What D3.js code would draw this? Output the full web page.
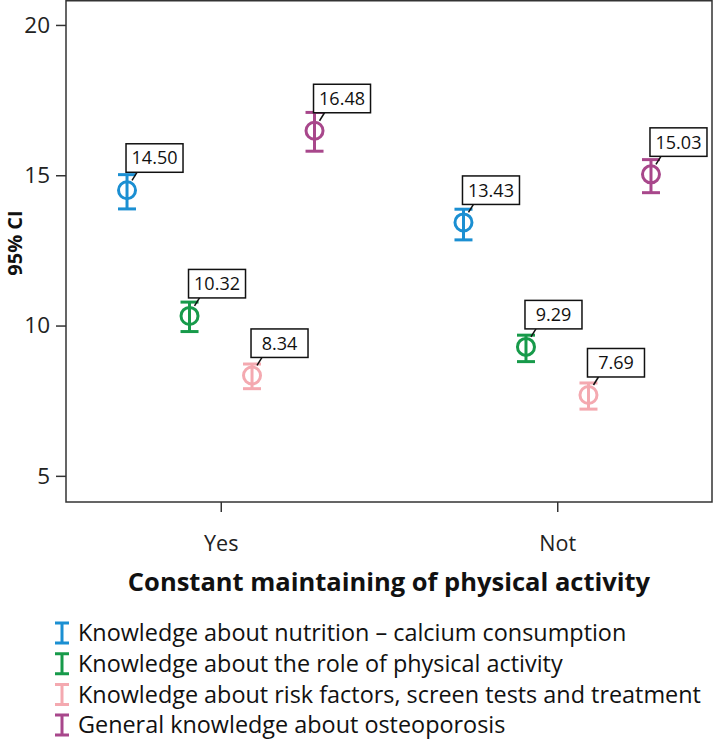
<!DOCTYPE html>
<html><head><meta charset="utf-8">
<script src="https://cdn.jsdelivr.net/npm/d3@7"></script>
<style>
body{margin:0;background:#fff;}
svg{display:block;font-family:"Open Sans",sans-serif;}
</style></head>
<body><svg id="chart" width="714" height="741"></svg>
<script>
const groups = ["Yes", "Not"];
const seriesNames = [
  "Knowledge about nutrition \u2013 calcium consumption",
  "Knowledge about the role of physical activity",
  "Knowledge about risk factors, screen tests and treatment",
  "General knowledge about osteoporosis"
];
const seriesColors = ["#1b8fd2", "#179a4a", "#f4a9b0", "#a8478b"];
const meansYes = [14.50, 10.32, 8.34, 16.48];
const meansNot = [13.43, 9.29, 7.69, 15.03];
const lowerYes = [13.88, 9.80, 7.90, 15.80];
const upperYes = [15.02, 10.78, 8.72, 17.09];
const lowerNot = [12.85, 8.80, 7.22, 14.42];
const upperNot = [13.87, 9.68, 8.09, 15.52];
const yTicks = [5, 10, 15, 20];
const xTitle = "Constant maintaining of physical activity";
const yTitle = "95% CI";

(function () {
const rows = [];
groups.forEach((g, gi) => {
  const m = gi === 0 ? meansYes : meansNot;
  const lo = gi === 0 ? lowerYes : lowerNot;
  const hi = gi === 0 ? upperYes : upperNot;
  seriesNames.forEach((s, si) => rows.push({group: g, si, mean: m[si], lo: lo[si], hi: hi[si]}));
});

const svg = d3.select("#chart");
const pL = 66, pR = 712, pT = 0.75, pB = 502;
const y = d3.scaleLinear().domain([4.13, 20.83]).range([pB, 0]);
const x = d3.scalePoint().domain(groups).range([pL, pR]).padding(0.46);
const off = d3.scalePoint().domain(d3.range(seriesNames.length)).range([-93.75, 93.75]);
const axisColor = "#333";

svg.append("rect").attr("x", pL).attr("y", pT).attr("width", pR - pL).attr("height", pB - pT)
  .attr("fill", "none").attr("stroke", axisColor).attr("stroke-width", 1.5);

const ya = svg.append("g").attr("transform", `translate(${pL},0)`)
  .call(d3.axisLeft(y).tickValues(yTicks).tickSize(10).tickPadding(6));
ya.select(".domain").remove();
ya.selectAll(".tick line").attr("stroke", axisColor).attr("stroke-width", 1.5);
ya.selectAll(".tick text").attr("font-size", 22.5).attr("fill", "#222").attr("font-family", "Open Sans");

const xa = svg.append("g").attr("transform", `translate(0,${pB})`)
  .call(d3.axisBottom(x).tickSize(10).tickPadding(24));
xa.select(".domain").remove();
xa.selectAll(".tick line").attr("stroke", axisColor).attr("stroke-width", 1.5);
xa.selectAll(".tick text").attr("font-size", 21.5).attr("fill", "#222").attr("font-family", "Open Sans");

svg.append("text").attr("x", (pL + pR) / 2).attr("y", 591).attr("text-anchor", "middle")
  .attr("font-size", 25.5).attr("font-weight", "bold").attr("fill", "#111").text(xTitle);
svg.append("text").attr("transform", `translate(22,243) rotate(-90)`)
  .attr("text-anchor", "middle").attr("font-size", 20).attr("font-weight", "bold").attr("fill", "#111").text(yTitle);

const cap = 9, r = 8.5;
const pts = svg.append("g").selectAll("g").data(rows).join("g")
  .attr("transform", d => `translate(${x(d.group) + off(d.si)},0)`)
  .attr("stroke", d => seriesColors[d.si]).attr("stroke-width", 3).attr("fill", "none");
pts.append("line").attr("x1", 0).attr("x2", 0).attr("y1", d => y(d.hi)).attr("y2", d => y(d.lo));
pts.append("line").attr("x1", -cap).attr("x2", cap).attr("y1", d => y(d.hi)).attr("y2", d => y(d.hi));
pts.append("line").attr("x1", -cap).attr("x2", cap).attr("y1", d => y(d.lo)).attr("y2", d => y(d.lo));
pts.append("circle").attr("cx", 0).attr("cy", d => y(d.mean)).attr("r", r).attr("fill", "#fff");
pts.append("line").attr("x1", 0).attr("x2", 0).attr("y1", d => y(d.mean) - r).attr("y2", d => y(d.mean) + r);

const bw = 57, bh = 28.5;
const lab = svg.append("g").selectAll("g").data(rows).join("g")
  .attr("transform", d => `translate(${x(d.group) + off(d.si) - 1},${y(d.mean) - 18 - bh})`);
lab.append("line").attr("x1", 11).attr("y1", bh).attr("x2", 6).attr("y2", bh + 8)
  .attr("stroke", "#111").attr("stroke-width", 1.5);
lab.append("rect").attr("width", bw).attr("height", bh).attr("fill", "#fff")
  .attr("stroke", "#111").attr("stroke-width", 1.5);
lab.append("text").attr("x", bw / 2).attr("y", bh / 2).attr("dy", "0.36em").attr("text-anchor", "middle")
  .attr("font-size", 18).attr("fill", "#111").text(d => d.mean.toFixed(2));

const lg = svg.append("g").selectAll("g").data(seriesNames).join("g")
  .attr("transform", (d, i) => `translate(62,${633 + i * 30.7})`);
lg.append("path").attr("d", "M-7,-10H7M0,-10V10M-7,10H7")
  .attr("stroke", (d, i) => seriesColors[i]).attr("stroke-width", 3).attr("fill", "none");
lg.append("text").attr("x", 16).attr("dy", "0.35em").attr("font-size", 23.4).attr("fill", "#111").text(d => d);
})();
</script></body></html>
